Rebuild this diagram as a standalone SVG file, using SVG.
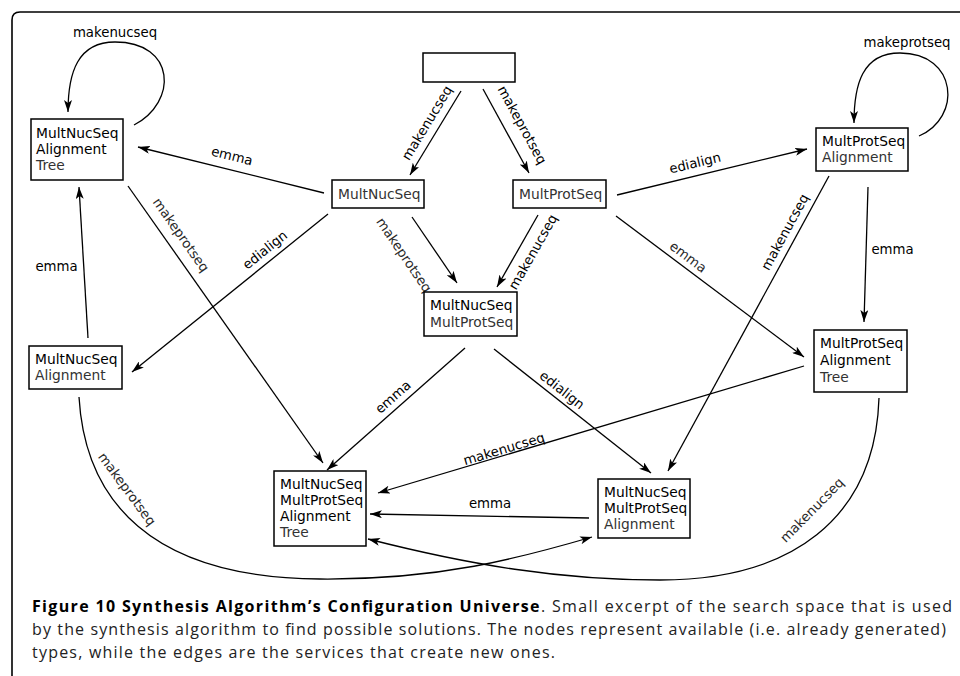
<svg xmlns="http://www.w3.org/2000/svg" width="960" height="676" viewBox="0 0 960 676">
<style>
.box{fill:#fff;stroke:#000;stroke-width:1.5}
.nt{font-family:"DejaVu Sans",Verdana,sans-serif;font-size:13.8px;fill:#000}
.lt{fill:#333}
.e{fill:none;stroke:#000;stroke-width:1.3;marker-end:url(#ah)}
.el{font-family:"DejaVu Sans",Verdana,sans-serif;font-size:13.3px;fill:#000;text-anchor:middle}
.th{fill:#2a2a2a}
.cap{font-family:"Open Sans","Liberation Sans",sans-serif;font-size:16px;fill:#222}
</style>
<defs>
<marker id="ah" viewBox="0 0 12 8" refX="12" refY="4" markerWidth="12" markerHeight="8" markerUnits="userSpaceOnUse" orient="auto">
<path d="M0,0 L12,4 L0,8 L3,4 z" fill="#000"/>
</marker>
</defs>
<rect width="960" height="676" fill="#fff"/>
<path d="M12,676 L12,20 Q12,12 20,12 L960,12" fill="none" stroke="#000" stroke-width="1.6"/>

<g id="connectors">
<path class="e" d="M134,125 C178,102 176,42 115,42 C78,42 68,72 68,112"/>
<path class="e" d="M919,136 C962,118 958,53 900,53 C862,53 854,85 854,123"/>
<path class="e" d="M461,91 L410,175"/>
<path class="e" d="M483,89 L529,173"/>
<path class="e" d="M324,193 L138,147"/>
<path class="e" d="M328,214 L132,372"/>
<path class="e" d="M88,338 L79,187"/>
<path class="e" d="M128,186 L323,463"/>
<path class="e" d="M412,217 L457,283"/>
<path class="e" d="M538,215 L497,287"/>
<path class="e" d="M617,195 L807,149"/>
<path class="e" d="M616,216 L804,357"/>
<path class="e" d="M868,187 L864,322"/>
<path class="e" d="M829,176 L668,471"/>
<path class="e" d="M465,348 L327,470"/>
<path class="e" d="M494,349 L651,473"/>
<path class="e" d="M804,366 L378,493"/>
<path class="e" d="M589,518 L370,514"/>
<path class="e" d="M79,397 C85,500 150,578 320,579 C440,580 520,558 592,537"/>
<path class="e" d="M879,398 C875,520 790,580 660,580 C560,580 470,565 368,539"/>

<text class="el" x="115" y="37">makenucseq</text>
<text class="el" x="907" y="47">makeprotseq</text>
<text class="el" transform="translate(427,123) rotate(-58.7)" y="4.5">makenucseq</text>
<text class="el" transform="translate(522,125) rotate(61.3)" y="4.5">makeprotseq</text>
<text class="el" transform="translate(232,156) rotate(13.9)" y="4.5">emma</text>
<text class="el" transform="translate(265,250) rotate(-38.9)" y="4.5">edialign</text>
<text class="el" x="56.5" y="271">emma</text>
<text class="el th" transform="translate(181,235) rotate(54.9)" y="4.5">makeprotseq</text>
<text class="el th" transform="translate(404,255) rotate(55.7)" y="4.5">makeprotseq</text>
<text class="el" transform="translate(533,252) rotate(-60.3)" y="4.5">makenucseq</text>
<text class="el" transform="translate(695,163) rotate(-13.6)" y="4.5">edialign</text>
<text class="el th" transform="translate(688,257) rotate(36.9)" y="4.5">emma</text>
<text class="el" x="892.5" y="254">emma</text>
<text class="el" transform="translate(785,232) rotate(-61.4)" y="4.5">makenucseq</text>
<text class="el" transform="translate(393,397) rotate(-41.5)" y="4.5">emma</text>
<text class="el" transform="translate(562,390) rotate(38.3)" y="4.5">edialign</text>
<text class="el" transform="translate(504,449) rotate(-16.6)" y="4.5">makenucseq</text>
<text class="el" x="490" y="508">emma</text>
<text class="el th" transform="translate(127,489) rotate(53.6)" y="4.5">makeprotseq</text>
<text class="el th" transform="translate(812,510) rotate(-45.5)" y="4.5">makenucseq</text>
</g>

<g id="n-empty"><rect class="box" x="423" y="53" width="92" height="29"/></g>
<g id="n-nuc"><rect class="box" x="332" y="180" width="92" height="28"/>
<text class="nt lt" x="338" y="199">MultNucSeq</text></g>
<g id="n-prot"><rect class="box" x="513" y="180" width="93" height="28"/>
<text class="nt lt" x="519" y="199">MultProtSeq</text></g>
<g id="n-nucprot"><rect class="box" x="424" y="292" width="93" height="44"/>
<text class="nt" x="430" y="310">MultNucSeq</text>
<text class="nt lt" x="430" y="327">MultProtSeq</text></g>
<g id="n-nucalntree"><rect class="box" x="31" y="119" width="92" height="61"/>
<text class="nt" x="36" y="138">MultNucSeq</text>
<text class="nt" x="36" y="154">Alignment</text>
<text class="nt lt" x="36" y="170">Tree</text></g>
<g id="n-nucaln"><rect class="box" x="29" y="346" width="93" height="43"/>
<text class="nt" x="35" y="364">MultNucSeq</text>
<text class="nt lt" x="35" y="380">Alignment</text></g>
<g id="n-protaln"><rect class="box" x="816" y="128" width="92" height="43"/>
<text class="nt" x="822" y="146">MultProtSeq</text>
<text class="nt lt" x="822" y="162">Alignment</text></g>
<g id="n-protalntree"><rect class="box" x="814" y="330" width="93" height="62"/>
<text class="nt" x="820" y="348">MultProtSeq</text>
<text class="nt" x="820" y="365">Alignment</text>
<text class="nt lt" x="820" y="382">Tree</text></g>
<g id="n-all"><rect class="box" x="274" y="471" width="92" height="75"/>
<text class="nt" x="280" y="489">MultNucSeq</text>
<text class="nt" x="280" y="505">MultProtSeq</text>
<text class="nt" x="280" y="521">Alignment</text>
<text class="nt lt" x="280" y="537">Tree</text></g>
<g id="n-nucprotaln"><rect class="box" x="598" y="479" width="92" height="59"/>
<text class="nt" x="604" y="497">MultNucSeq</text>
<text class="nt" x="604" y="513">MultProtSeq</text>
<text class="nt lt" x="604" y="529">Alignment</text></g>

<g id="caption">
<text class="cap" x="32" y="612" textLength="920" lengthAdjust="spacing"><tspan font-weight="bold" fill="#000">Figure 10 Synthesis Algorithm’s Configuration Universe</tspan>. Small excerpt of the search space that is used</text>
<text class="cap" x="32" y="635" textLength="914" lengthAdjust="spacing">by the synthesis algorithm to find possible solutions. The nodes represent available (i.e. already generated)</text>
<text class="cap" x="32" y="658" textLength="523" lengthAdjust="spacing">types, while the edges are the services that create new ones.</text>
</g>
</svg>
